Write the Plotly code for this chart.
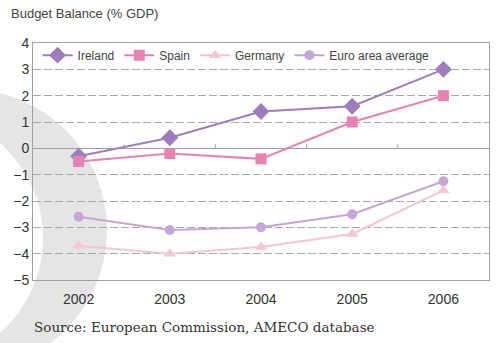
import plotly.graph_objects as go

years = ["2002", "2003", "2004", "2005", "2006"]
ireland = [-0.3, 0.4, 1.4, 1.6, 3.0]
spain = [-0.5, -0.2, -0.4, 1.0, 2.0]
germany = [-3.7, -4.0, -3.75, -3.25, -1.6]
euro = [-2.6, -3.1, -3.0, -2.5, -1.25]
y_ticks = [-5, -4, -3, -2, -1, 0, 1, 2, 3, 4]

W, H = 500, 343
L, R, T, B = 33, 489, 43, 280

def px(x):
    return (x - L) / (R - L)

def py(y):
    return (B - y) / (B - T)

fig = go.Figure()
series = [
    ("Ireland", ireland, "#9E7DBE", "diamond", 13),
    ("Spain", spain, "#E683AE", "square", 11),
    ("Germany", germany, "#F3C6D5", "triangle-up", 11),
    ("Euro area average", euro, "#C3A7D8", "circle", 10),
]
for name, vals, col, sym, sz in series:
    fig.add_trace(go.Scatter(
        x=years, y=vals, name=name, mode="lines+markers",
        line=dict(color=col, width=2),
        marker=dict(color=col, symbol=sym, size=sz),
    ))

shapes = [
    # background crescent
    dict(type="circle", xref="paper", yref="paper", layer="below",
         x0=px(-175), x1=px(107), y0=py(371), y1=py(89),
         fillcolor="#E5E5E5", line=dict(width=0)),
    dict(type="circle", xref="paper", yref="paper", layer="below",
         x0=px(-209), x1=px(43), y0=py(364), y1=py(112),
         fillcolor="white", line=dict(width=0)),
]
for xb in [0.5, 1.5, 2.5, 3.5]:
    shapes.append(dict(type="line", xref="x", yref="y", ysizemode="pixel",
                       yanchor=0, x0=xb, x1=xb, y0=0, y1=4,
                       line=dict(color="#A0A0A0", width=1)))

fig.update_layout(
    width=W, height=H,
    margin=dict(l=L, r=W - R, t=T, b=H - B),
    paper_bgcolor="white", plot_bgcolor="rgba(0,0,0,0)",
    font=dict(family="Liberation Sans, Arial, sans-serif", color="#444444", size=13),
    showlegend=True,
    legend=dict(orientation="h", x=0.01, y=1.01, xanchor="left", yanchor="top",
                bgcolor="rgba(0,0,0,0)", font=dict(size=12, color="#444444"),
                itemwidth=30, tracegroupgap=0),
    shapes=shapes,
    annotations=[
        dict(text="Budget Balance (% GDP)", xref="paper", yref="paper",
             x=px(9), y=py(14), xanchor="left", yanchor="middle", showarrow=False,
             font=dict(size=13, color="#444444")),
        dict(text="Source: European Commission, AMECO database", xref="paper", yref="paper",
             x=px(32), y=py(327), xanchor="left", yanchor="middle", showarrow=False,
             font=dict(family="DejaVu Serif, serif", size=13.5, color="#333333")),
    ],
    xaxis=dict(type="category", range=[-0.5, 4.5], showgrid=False, ticks="",
               showline=True, linecolor="#A0A0A0", linewidth=1, mirror=True,
               tickfont=dict(size=14, color="#333333"), ticklabelstandoff=6),
    yaxis=dict(range=[-5, 4], tickvals=y_ticks, showgrid=True, gridcolor="#A8A8A8",
               griddash="8px,3px", gridwidth=1, zeroline=True, zerolinecolor="#A0A0A0",
               zerolinewidth=1, showline=True, linecolor="#A0A0A0", linewidth=1,
               mirror=True, ticks="", tickfont=dict(size=14, color="#333333")),
)
fig.write_html("out.html")
